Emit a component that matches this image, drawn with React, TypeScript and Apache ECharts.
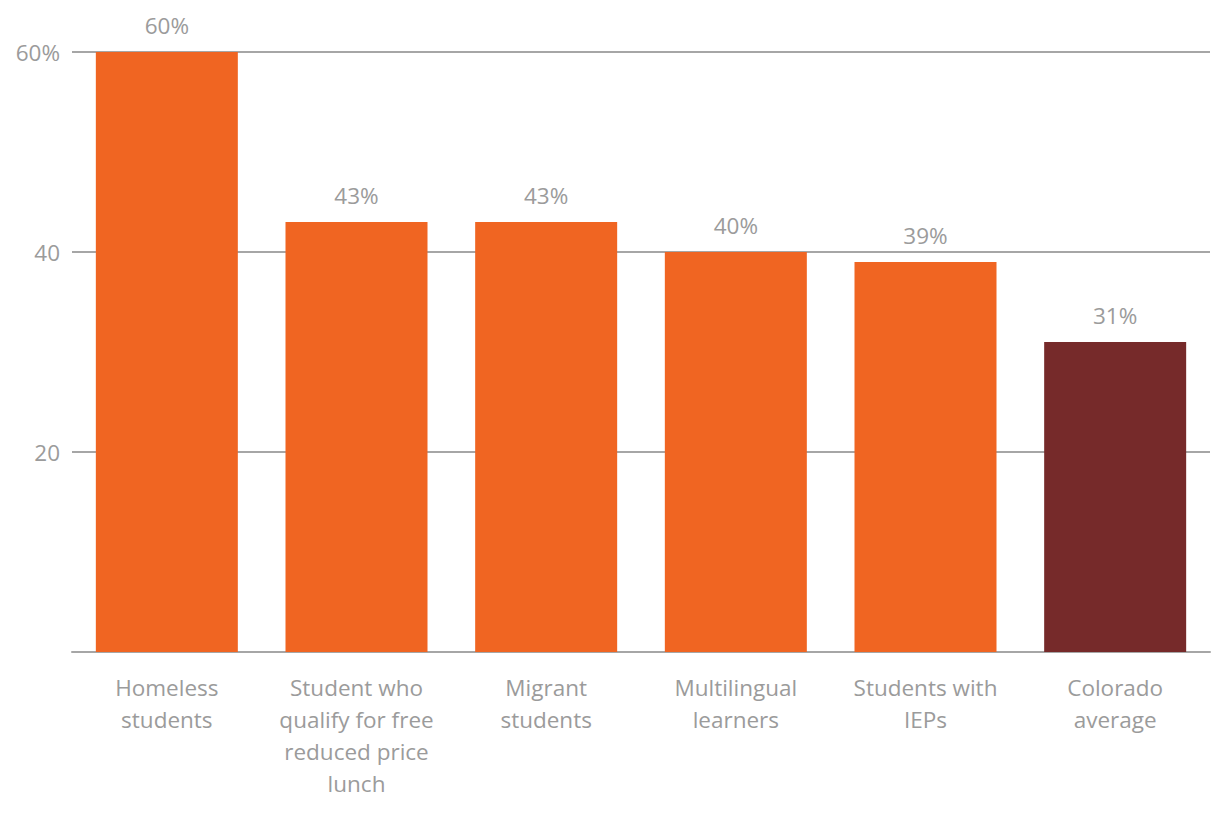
import React, { useEffect, useRef } from "react";
import * as echarts from "echarts";

const categories = [
  "Homeless\nstudents",
  "Student who\nqualify for free\nreduced price\nlunch",
  "Migrant\nstudents",
  "Multilingual\nlearners",
  "Students with\nIEPs",
  "Colorado\naverage",
];
const values = [60, 43, 43, 40, 39, 31];
const barColors = ["#F06522", "#F06522", "#F06522", "#F06522", "#F06522", "#762A2A"];
const yTicks = [0, 20, 40, 60];

const FONT = "'Open Sans', Lato, sans-serif";
const GREY = "#9b9b9b";

export default function App() {
  const ref = useRef<HTMLDivElement>(null);
  useEffect(() => {
    if (!ref.current) return;
    const chart = echarts.init(ref.current, null, { renderer: "svg" });
    chart.setOption({
      animation: false,
      grid: { left: 72, right: 10, top: 52, bottom: 166, containLabel: false },
      xAxis: {
        type: "category",
        data: categories,
        axisLine: { lineStyle: { color: "#a6a6a6", width: 2 } },
        axisTick: { alignWithLabel: true, length: 8, lineStyle: { color: "#a6a6a6", width: 2 } },
        axisLabel: {
          color: GREY,
          fontFamily: FONT,
          fontSize: 22.5,
          lineHeight: 32,
          margin: 19,
          interval: 0,
        },
      },
      yAxis: {
        type: "value",
        min: yTicks[0],
        max: yTicks[yTicks.length - 1],
        interval: 20,
        axisLine: { show: false },
        axisTick: { show: false },
        splitLine: { lineStyle: { color: "#a6a6a6", width: 2 } },
        axisLabel: {
          color: GREY,
          fontFamily: FONT,
          fontSize: 22.5,
          margin: 12,
          formatter: (v: number) => (v === 0 ? "" : v === 60 ? "60%" : String(v)),
        },
      },
      series: [
        {
          type: "bar",
          data: values.map((v, i) => ({ value: v, itemStyle: { color: barColors[i] } })),
          barWidth: 142,
          label: {
            show: true,
            position: "top",
            distance: 15,
            color: GREY,
            fontFamily: FONT,
            fontSize: 22.5,
            formatter: "{c}%",
          },
        },
      ],
    });
    return () => chart.dispose();
  }, []);
  return (
    <div
      ref={ref}
      style={{ position: "fixed", left: 0, top: 0, width: 1220, height: 818, background: "#fff" }}
    />
  );
}
